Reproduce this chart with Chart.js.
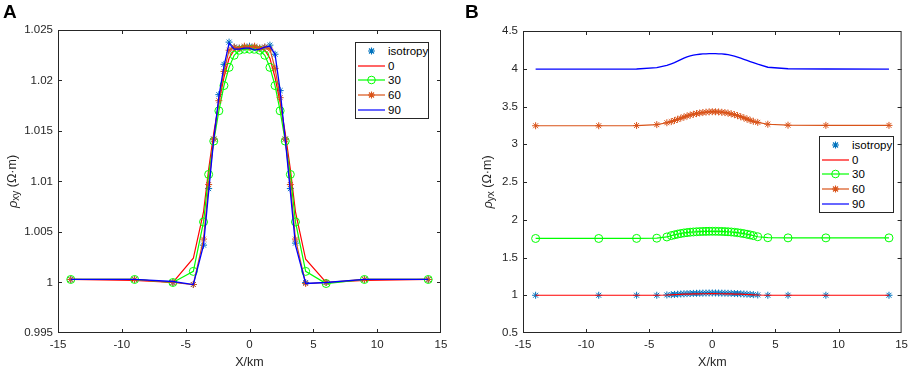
<!DOCTYPE html>
<html lang="en">
<head>
  <meta charset="UTF-8">
  <title>Apparent resistivity profiles</title>
  <script src="https://cdn.jsdelivr.net/npm/chart.js"></script>
  <style>
    body {
      margin: 0;
      background: #fff;
      font-family: "Liberation Sans", Arial, sans-serif;
    }
    #wrap {
      position: relative;
      width: 913px;
      height: 370px;
    }
    canvas {
      position: absolute;
      top: 0;
    }
    #chartA { left: 0; }
    #chartB { left: 455px; }
    .panel-tag {
      position: absolute;
      top: 1px;
      font-weight: bold;
      font-size: 19px;
      color: #000;
    }
    .legend {
      position: absolute;
      border: 1px solid #262626;
      background: #fff;
      padding: 1px 0;
      font-size: 11.5px;
      color: #000;
    }
    .legend-item {
      display: flex;
      align-items: center;
      height: 14.6px;
    }
    .legend-item svg {
      margin: 0 3px 0 2px;
      flex: none;
    }
  </style>
</head>
<body>
<div id="wrap">
  <canvas id="chartA" width="455" height="370"></canvas>
  <canvas id="chartB" width="458" height="370"></canvas>
  <div class="panel-tag" style="left:3px">A</div>
  <div class="panel-tag" style="left:465px">B</div>
  <div class="legend" id="legendA" style="left:355px; top:42px; width:72px"></div>
  <div class="legend" id="legendB" style="left:819px; top:136px; width:73px"></div>
</div>

<script>
  // Panel A: rho_xy along the profile
  const xA = [-14, -9, -6, -4.4, -3.6, -3.2, -2.8, -2.4, -2.0, -1.6, -1.2, -0.8, -0.4, 0,
              0.4, 0.8, 1.2, 1.6, 2.0, 2.4, 2.8, 3.2, 3.6, 4.4, 6, 9, 14];
  const isoA = [1.0003, 1.0003, 1.0000, 0.9998, 1.0037, 1.0093, 1.0142, 1.0186, 1.0216, 1.0238, 1.0233, 1.0232, 1.0233, 1.0234,
                1.0233, 1.0232, 1.0233, 1.0235, 1.0226, 1.0190, 1.0142, 1.0093, 1.0039, 1.0000, 1.0000, 1.0003, 1.0003];
  const deg0A = [1.0003, 1.0002, 1.0000, 1.0024, 1.0070, 1.0112, 1.0148, 1.0178, 1.0203, 1.0222, 1.0230, 1.0232, 1.0233, 1.0234,
                 1.0233, 1.0232, 1.0230, 1.0222, 1.0203, 1.0178, 1.0148, 1.0112, 1.0070, 1.0023, 1.0000, 1.0002, 1.0003];
  const deg30A = [1.0003, 1.0003, 1.0000, 1.0011, 1.0060, 1.0107, 1.0140, 1.0170, 1.0195, 1.0213, 1.0225, 1.0230, 1.0231, 1.0231,
                  1.0231, 1.0230, 1.0225, 1.0213, 1.0195, 1.0170, 1.0140, 1.0107, 1.0060, 1.0011, 0.9999, 1.0003, 1.0003];
  const deg60A = [1.0003, 1.0003, 1.0000, 0.9998, 1.0043, 1.0097, 1.0142, 1.0180, 1.0209, 1.0230, 1.0233, 1.0232, 1.0234, 1.0233,
                  1.0234, 1.0232, 1.0233, 1.0231, 1.0212, 1.0183, 1.0142, 1.0097, 1.0043, 0.9999, 1.0000, 1.0003, 1.0003];
  const deg90A = [1.0003, 1.0003, 1.0001, 0.9998, 1.0037, 1.0090, 1.0142, 1.0184, 1.0214, 1.0237, 1.0231, 1.0231, 1.0232, 1.0232,
                  1.0230, 1.0231, 1.0233, 1.0234, 1.0226, 1.0190, 1.0142, 1.0090, 1.0037, 0.9999, 1.0000, 1.0003, 1.0003];
  const yTicksA = [0.995, 1, 1.005, 1.01, 1.015, 1.02, 1.025];
  const yTickLabelsA = ['0.995', '1', '1.005', '1.01', '1.015', '1.02', '1.025'];

  // Panel B: rho_yx along the profile
  const xB = [-14, -9, -6, -4.4, -3.6, -3.25, -3, -2.75, -2.5, -2.25, -2, -1.75, -1.5, -1.25, -1, -0.75, -0.5, -0.25, 0,
              0.25, 0.5, 0.75, 1, 1.25, 1.5, 1.75, 2, 2.25, 2.5, 2.75, 3, 3.25, 3.6, 4.4, 6, 9, 14];
  const isoB = [1, 1, 1, 1, 1.004, 1.008, 1.011, 1.014, 1.017, 1.019, 1.021, 1.023, 1.025, 1.026, 1.027, 1.028, 1.029, 1.03, 1.03,
                1.03, 1.029, 1.028, 1.027, 1.026, 1.025, 1.023, 1.021, 1.019, 1.017, 1.014, 1.011, 1.008, 1.004, 1, 1, 1, 1];
  const deg0B = [1, 1, 1, 1, 1.003, 1.006, 1.008, 1.010, 1.012, 1.014, 1.015, 1.016, 1.017, 1.018, 1.019, 1.020, 1.020, 1.021, 1.021,
                 1.021, 1.020, 1.020, 1.019, 1.018, 1.017, 1.016, 1.015, 1.014, 1.012, 1.010, 1.008, 1.006, 1.003, 1, 1, 1, 1];
  const deg30B = [1.752, 1.752, 1.753, 1.756, 1.772, 1.79, 1.80, 1.81, 1.818, 1.825, 1.83, 1.835, 1.838, 1.841, 1.843, 1.845, 1.846, 1.847, 1.847,
                  1.847, 1.846, 1.845, 1.843, 1.841, 1.838, 1.834, 1.829, 1.823, 1.816, 1.808, 1.799, 1.79, 1.775, 1.762, 1.76, 1.76, 1.76];
  const deg60B = [3.245, 3.245, 3.248, 3.26, 3.285, 3.30, 3.315, 3.33, 3.345, 3.36, 3.374, 3.386, 3.397, 3.406, 3.414, 3.420, 3.425, 3.429, 3.431,
                  3.430, 3.428, 3.424, 3.419, 3.412, 3.403, 3.392, 3.379, 3.365, 3.350, 3.334, 3.318, 3.304, 3.290, 3.265, 3.252, 3.25, 3.25];
  const deg90B = [3.995, 3.995, 3.997, 4.015, 4.045, 4.065, 4.08, 4.10, 4.12, 4.14, 4.158, 4.17, 4.18, 4.187, 4.192, 4.196, 4.198, 4.2, 4.2,
                  4.2, 4.198, 4.196, 4.192, 4.186, 4.178, 4.168, 4.155, 4.14, 4.125, 4.11, 4.095, 4.08, 4.06, 4.02, 4.0, 3.997, 3.995];
  const yTicksB = [0.5, 1, 1.5, 2, 2.5, 3, 3.5, 4, 4.5];
  const yTickLabelsB = ['0.5', '1', '1.5', '2', '2.5', '3', '3.5', '4', '4.5'];

  const xTicks = [-15, -10, -5, 0, 5, 10, 15];
  const xTickLabels = ['-15', '-10', '-5', '0', '5', '10', '15'];

  // series styling (MATLAB-like)
  const seriesNames = ['isotropy', '0', '30', '60', '90'];
  const seriesColors = ['#0072BD', '#FF0000', '#00FF00', '#D95319', '#0000FF'];
  const seriesMarkers = ['star', null, 'circle', 'star', null];
  const seriesLines = [false, true, true, true, true];
  const seriesRadius = [3.5, 0, 4, 3.5, 0];
  const seriesWidths = [1, 1.2, 1.2, 1.2, 1.3];

  const FONT = '"Liberation Sans", Arial, sans-serif';
  const AXIS_COLOR = '#262626';
  Chart.defaults.font.family = FONT;

  function buildDatasets(xs, ys) {
    return ys.map((vals, i) => ({
      label: seriesNames[i],
      data: xs.map((x, j) => ({ x: x, y: vals[j] })),
      showLine: seriesLines[i],
      borderColor: seriesColors[i],
      backgroundColor: 'rgba(0,0,0,0)',
      borderWidth: seriesWidths[i],
      pointStyle: seriesMarkers[i] || 'circle',
      pointRadius: seriesRadius[i],
      pointBorderWidth: 1,
      pointHoverRadius: seriesRadius[i],
      order: 5 - i
    }));
  }

  // box around plot, inward tick marks, y title with subscript
  const matlabBox = {
    id: 'matlabBox',
    afterDraw(chart, args, opts) {
      const { ctx, chartArea: a, scales } = chart;
      ctx.save();
      ctx.strokeStyle = AXIS_COLOR;
      ctx.lineWidth = 1;
      ctx.strokeRect(a.left + 0.5, a.top + 0.5, a.right - a.left - 1, a.bottom - a.top - 1);
      ctx.beginPath();
      scales.x.ticks.forEach(t => {
        const px = Math.round(scales.x.getPixelForValue(t.value)) + 0.5;
        if (px < a.left + 2 || px > a.right - 2) return;
        ctx.moveTo(px, a.bottom); ctx.lineTo(px, a.bottom - 4);
        ctx.moveTo(px, a.top); ctx.lineTo(px, a.top + 4);
      });
      scales.y.ticks.forEach(t => {
        const py = Math.round(scales.y.getPixelForValue(t.value)) + 0.5;
        if (py < a.top + 2 || py > a.bottom - 2) return;
        ctx.moveTo(a.left, py); ctx.lineTo(a.left + 4, py);
        ctx.moveTo(a.right, py); ctx.lineTo(a.right - 4, py);
      });
      ctx.stroke();

      // y axis title
      const parts = [
        { text: 'ρ', font: 'italic 13px ' + FONT, dy: 0 },
        { text: opts.sub, font: '10px ' + FONT, dy: 3.5 },
        { text: ' (Ω·m)', font: '12.5px ' + FONT, dy: 0 }
      ];
      let total = 0;
      parts.forEach(p => { ctx.font = p.font; p.w = ctx.measureText(p.text).width; total += p.w; });
      ctx.translate(opts.titleX, (a.top + a.bottom) / 2);
      ctx.rotate(-Math.PI / 2);
      ctx.fillStyle = AXIS_COLOR;
      ctx.textBaseline = 'middle';
      ctx.textAlign = 'left';
      let cx = -total / 2;
      parts.forEach(p => { ctx.font = p.font; ctx.fillText(p.text, cx, p.dy); cx += p.w; });
      ctx.restore();
    }
  };

  function makePanel(canvasId, p) {
    const ctx = document.getElementById(canvasId).getContext('2d');
    return new Chart(ctx, {
      type: 'scatter',
      data: { datasets: buildDatasets(p.xs, p.ys) },
      plugins: [matlabBox],
      options: {
        responsive: false,
        animation: false,
        events: [],
        layout: { padding: { top: p.top, right: p.right, left: 0, bottom: 0 } },
        plugins: {
          legend: { display: false },
          tooltip: { enabled: false },
          matlabBox: { titleX: p.titleX, sub: p.sub }
        },
        scales: {
          x: {
            type: 'linear',
            min: -15,
            max: 15,
            grid: { display: false, drawTicks: false },
            border: { display: false },
            afterBuildTicks: s => { s.ticks = xTicks.map(v => ({ value: v })); },
            afterFit: s => { s.height = 37; },
            ticks: {
              autoSkip: false,
              maxRotation: 0,
              padding: 5,
              color: AXIS_COLOR,
              font: { size: 11.5 },
              callback: (v, i) => xTickLabels[i]
            },
            title: {
              display: true,
              text: 'X/km',
              color: AXIS_COLOR,
              font: { size: 12.5 },
              padding: { top: 0, bottom: 0 }
            }
          },
          y: {
            type: 'linear',
            min: p.yTicks[0],
            max: p.yTicks[p.yTicks.length - 1],
            grid: { display: false, drawTicks: false },
            border: { display: false },
            afterBuildTicks: s => { s.ticks = p.yTicks.map(v => ({ value: v })); },
            afterFit: s => { s.width = p.left; },
            ticks: {
              autoSkip: false,
              padding: 5,
              color: AXIS_COLOR,
              font: { size: 11.5 },
              callback: (v, i) => p.yLabels[i]
            }
          }
        }
      }
    });
  }

  makePanel('chartA', {
    xs: xA, ys: [isoA, deg0A, deg30A, deg60A, deg90A],
    yTicks: yTicksA, yLabels: yTickLabelsA,
    left: 58, right: 14, top: 30, titleX: 13, sub: 'xy'
  });
  makePanel('chartB', {
    xs: xB, ys: [isoB, deg0B, deg30B, deg60B, deg90B],
    yTicks: yTicksB, yLabels: yTickLabelsB,
    left: 68, right: 6, top: 31, titleX: 33, sub: 'yx'
  });

  // legends
  function sampleSvg(i) {
    const c = seriesColors[i];
    let s = '<svg width="27" height="14" viewBox="0 0 27 14">';
    if (seriesLines[i]) s += `<line x1="0" y1="7" x2="27" y2="7" stroke="${c}" stroke-width="1.2"/>`;
    if (seriesMarkers[i] === 'circle') s += `<circle cx="13.5" cy="7" r="3.8" fill="none" stroke="${c}" stroke-width="1"/>`;
    if (seriesMarkers[i] === 'star') {
      s += `<path d="M10 7 H17 M13.5 3.5 V10.5 M11 4.5 L16 9.5 M16 4.5 L11 9.5" stroke="${c}" stroke-width="1.1" fill="none"/>`;
    }
    return s + '</svg>';
  }
  ['legendA', 'legendB'].forEach(id => {
    const legend = document.getElementById(id);
    seriesNames.forEach((name, i) => {
      const item = document.createElement('div');
      item.className = 'legend-item';
      item.innerHTML = `${sampleSvg(i)}<span>${name}</span>`;
      legend.appendChild(item);
    });
  });
</script>
</body>
</html>
